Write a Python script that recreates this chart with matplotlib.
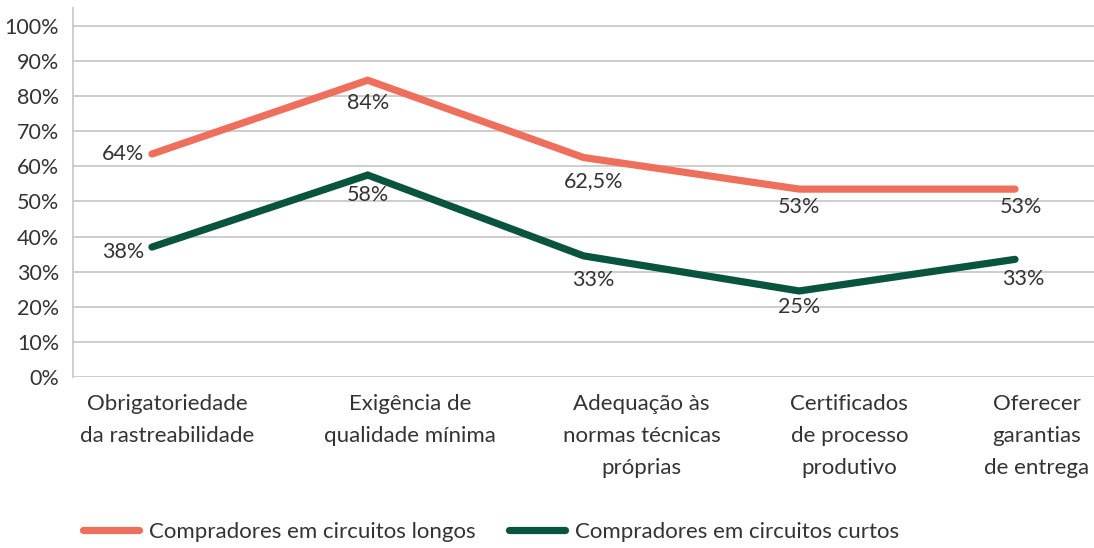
import matplotlib
matplotlib.use("Agg")
import matplotlib.pyplot as plt
from matplotlib.transforms import ScaledTranslation

categories = ["Obrigatoriedade\nda rastreabilidade", "Exigência de\nqualidade mínima",
              "Adequação às\nnormas técnicas\npróprias", "Certificados\nde processo\nprodutivo",
              "Oferecer\ngarantias\nde entrega"]
longos = [63.5, 84.5, 62.5, 53.5, 53.5]
curtos = [37, 57.5, 34.5, 24.5, 33.5]
labels_longos = ["64%", "84%", "62,5%", "53%", "53%"]
labels_curtos = ["38%", "58%", "33%", "25%", "33%"]
yticks = list(range(0, 101, 10))
ytick_labels = [f"{v}%" for v in yticks]
series_names = ["Compradores em circuitos longos", "Compradores em circuitos curtos"]

COR_L = "#EE6F5B"
COR_C = "#09543E"
TXT = "#333333"
FS = 16

plt.rcParams['font.family'] = ['Lato', 'DejaVu Sans']
fig = plt.figure(figsize=(10.94, 5.48), dpi=100)
ax = fig.add_axes([0.0667, 0.312, 0.9333, 0.673])

x = list(range(len(categories)))
l1, = ax.plot(x, longos, color=COR_L, lw=5.2, solid_capstyle='round', solid_joinstyle='miter', zorder=3)
l2, = ax.plot(x, curtos, color=COR_C, lw=5.2, solid_capstyle='round', solid_joinstyle='miter', zorder=3)

ax.set_xlim(-0.366, 4.366)
ax.set_ylim(0, 105)
ax.set_yticks(yticks)
ax.set_yticklabels(ytick_labels)
ax.yaxis.grid(True, color="#C9C9C9", lw=1.3)
ax.set_axisbelow(True)
for s in ["top", "right", "bottom"]:
    ax.spines[s].set_visible(False)
ax.spines["left"].set_color("#C9C9C9")
ax.spines["left"].set_linewidth(1.3)
ax.tick_params(axis='y', length=0, pad=10, labelsize=15.5, labelcolor=TXT)
ax.tick_params(axis='x', length=0, pad=12, labelsize=FS, labelcolor=TXT)
ax.set_xticks(x)
ax.set_xticklabels(categories, linespacing=1.75)
xoff_px = [15, 42, 58, 50, 22]
for lbl, dx in zip(ax.get_xticklabels(), xoff_px):
    lbl.set_transform(lbl.get_transform() + ScaledTranslation(dx / 100, 0, fig.dpi_scale_trans))

# data labels (offsets in pixels)
off_l = [(-8, 0, 'right'), (0, -23, 'center'), (10, -24, 'center'), (0, -18, 'center'), (6, -18, 'center')]
off_c = [(-8, -5, 'right'), (0, -20, 'center'), (10, -24, 'center'), (0, -16, 'center'), (8, -20, 'center')]
for xi, yi, t, (dx, dy, ha) in zip(x, longos, labels_longos, off_l):
    ax.annotate(t, (xi, yi), xytext=(dx * 0.72, dy * 0.72), textcoords='offset points',
                ha=ha, va='center', fontsize=15.5, color=TXT, zorder=4)
for xi, yi, t, (dx, dy, ha) in zip(x, curtos, labels_curtos, off_c):
    ax.annotate(t, (xi, yi), xytext=(dx * 0.72, dy * 0.72), textcoords='offset points',
                ha=ha, va='center', fontsize=15.5, color=TXT, zorder=4)

leg = fig.legend([l1, l2], series_names, loc='lower left', bbox_to_anchor=(0.058, -0.025),
                 ncol=2, frameon=False, fontsize=FS, labelcolor=TXT, handlelength=2.5,
                 handletextpad=0.45, columnspacing=1.5)

fig.savefig("out.png", dpi=100)
